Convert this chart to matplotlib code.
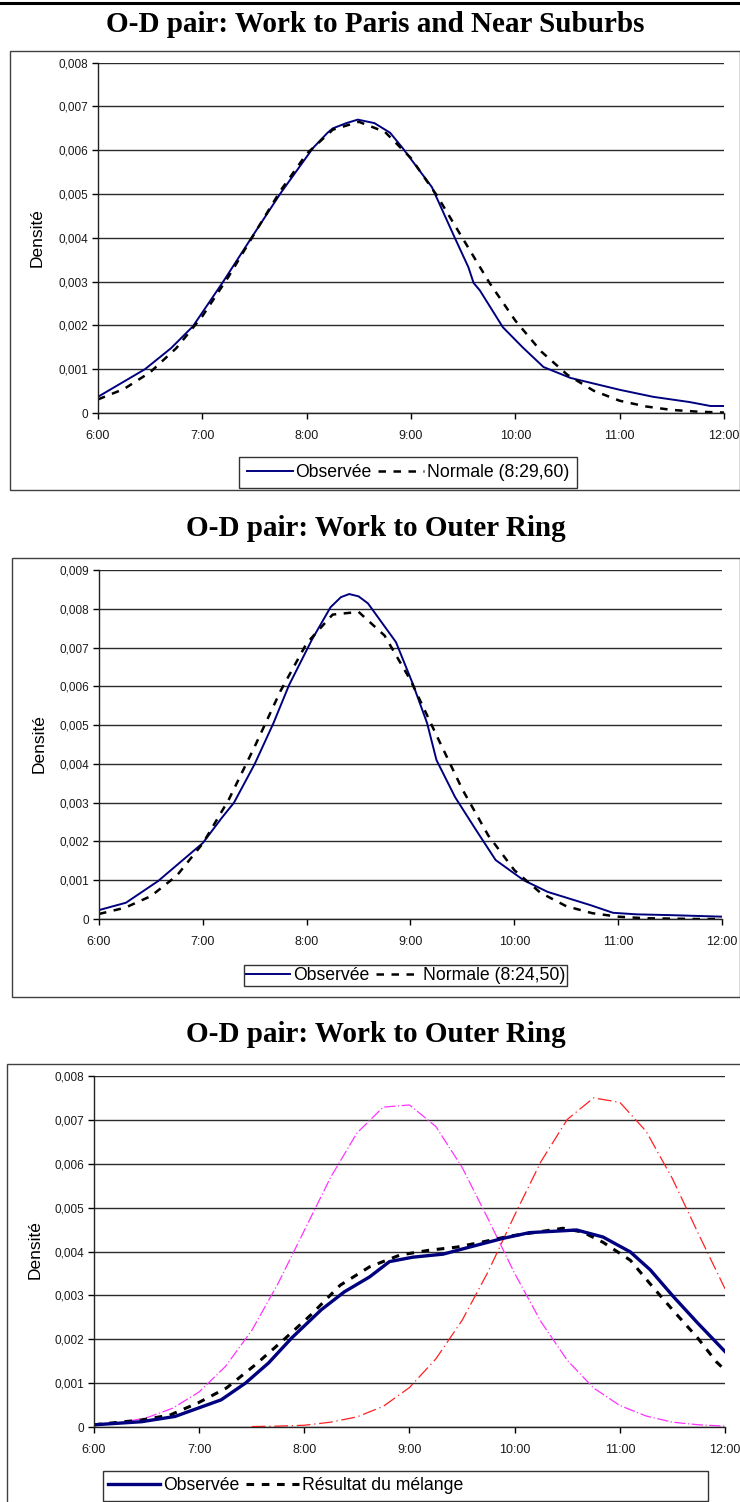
import matplotlib
matplotlib.use('Agg')
import matplotlib.pyplot as plt
from matplotlib.patches import Rectangle
from matplotlib.lines import Line2D

W, H = 740, 1502

# ------------------------------------------------------------------ data
hour_ticks = [6, 7, 8, 9, 10, 11, 12]
hour_labels = ['6:00', '7:00', '8:00', '9:00', '10:00', '11:00', '12:00']

titles = ['O-D pair: Work to Paris and Near Suburbs',
          'O-D pair: Work to Outer Ring',
          'O-D pair: Work to Outer Ring']
ylabel = 'Densité'

p1_yticks = [0, 0.001, 0.002, 0.003, 0.004, 0.005, 0.006, 0.007, 0.008]
p1_ylabels = ['0', '0,001', '0,002', '0,003', '0,004', '0,005', '0,006', '0,007', '0,008']
p2_yticks = [0, 0.001, 0.002, 0.003, 0.004, 0.005, 0.006, 0.007, 0.008, 0.009]
p2_ylabels = ['0', '0,001', '0,002', '0,003', '0,004', '0,005', '0,006', '0,007', '0,008', '0,009']

# Panel 1 : Paris and near suburbs
p1_obs_t = [6.0, 6.45, 6.7, 6.91, 7.2, 7.47, 7.75, 8.06, 8.2, 8.25, 8.38, 8.49, 8.65,
            8.8, 8.92, 9.2, 9.42, 9.55, 9.6, 9.66, 9.88, 10.07, 10.27, 10.53, 11.0,
            11.32, 11.67, 11.87, 12.0]
p1_obs_y = [0.00037, 0.00100, 0.00148, 0.00198, 0.00300, 0.00400, 0.00502, 0.00605,
            0.00640, 0.00650, 0.00662, 0.00670, 0.00662, 0.00640, 0.00605, 0.00516,
            0.00400, 0.00333, 0.00297, 0.00280, 0.00196, 0.00150, 0.00105, 0.00080,
            0.00053, 0.00037, 0.00025, 0.00016, 0.00016]
quarter_t = [6.0, 6.25, 6.5, 6.75, 7.0, 7.25, 7.5, 7.75, 8.0, 8.25, 8.5, 8.75,
             9.0, 9.25, 9.5, 9.75, 10.0, 10.25, 10.5, 10.75, 11.0, 11.25, 11.5,
             11.75, 12.0]
p1_norm_y = [0.00031, 0.00055, 0.00093, 0.00148, 0.00221, 0.00311, 0.00410, 0.00508,
             0.00592, 0.00647, 0.00665, 0.00642, 0.00582, 0.00496, 0.00397, 0.00298,
             0.00211, 0.00140, 0.00087, 0.00051, 0.00028, 0.00015, 0.00007, 0.00003,
             0.00001]
p1_legend = ['Observée', 'Normale (8:29,60)']

# Panel 2 : Outer ring
p2_obs_t = [6.0, 6.26, 6.57, 7.0, 7.18, 7.3, 7.5, 7.68, 7.83, 8.05, 8.23, 8.33, 8.41,
            8.5, 8.59, 8.86, 9.02, 9.16, 9.25, 9.43, 9.63, 9.82, 10.09, 10.32, 10.73,
            10.95, 11.18, 11.5, 12.0]
p2_obs_y = [0.00023, 0.00042, 0.00098, 0.00196, 0.00260, 0.00300, 0.00400, 0.00505,
            0.00603, 0.00720, 0.00804, 0.00830, 0.00838, 0.00832, 0.00814, 0.00714,
            0.00608, 0.00505, 0.00410, 0.00314, 0.00230, 0.00152, 0.00100, 0.00070,
            0.00036, 0.00016, 0.00012, 0.00010, 0.00006]
p2_norm_y = [0.00013, 0.00029, 0.00059, 0.00112, 0.00195, 0.00308, 0.00445, 0.00589,
             0.00711, 0.00785, 0.00792, 0.00731, 0.00616, 0.00474, 0.00334, 0.00215,
             0.00126, 0.00068, 0.00033, 0.00015, 0.00006, 0.00002, 0.00001, 0.0, 0.0]
p2_legend = ['Observée', 'Normale (8:24,50)']

# Panel 3 : Outer ring, mixture of two normals
p3_obs_t = [6.0, 6.45, 6.77, 6.99, 7.21, 7.44, 7.66, 7.88, 8.16, 8.38, 8.62, 8.81,
            9.03, 9.32, 9.57, 9.89, 10.14, 10.59, 10.84, 11.1, 11.29, 11.51, 11.74, 12.0]
p3_obs_y = [0.00005, 0.00012, 0.00024, 0.00043, 0.00062, 0.00100, 0.00146, 0.00203,
            0.00267, 0.00308, 0.00342, 0.00377, 0.00387, 0.00394, 0.00410, 0.00430,
            0.00443, 0.00449, 0.00433, 0.00399, 0.00358, 0.00297, 0.00237, 0.00172]
p3_mix_t = [6.0, 6.45, 6.72, 6.99, 7.26, 7.53, 7.8, 8.06, 8.34, 8.62, 8.91, 9.19,
            9.45, 9.7, 9.95, 10.21, 10.46, 10.65, 10.84, 11.1, 11.31, 11.52, 11.74,
            11.92, 12.0]
p3_mix_y = [0.00005, 0.00016, 0.00027, 0.00055, 0.00089, 0.00141, 0.00198, 0.00255,
            0.00323, 0.00365, 0.00392, 0.00403, 0.00410, 0.00422, 0.00435, 0.00444,
            0.00453, 0.00444, 0.00421, 0.00380, 0.00320, 0.00262, 0.00203, 0.00148,
            0.00130]
p3_comp1_y = [0.00004, 0.00010, 0.00021, 0.00043, 0.00080, 0.00138, 0.00220, 0.00327,
              0.00448, 0.00569, 0.00670, 0.00729, 0.00734, 0.00685, 0.00592, 0.00473,
              0.00350, 0.00240, 0.00152, 0.00089, 0.00049, 0.00025, 0.00011, 0.00005,
              0.00002]
p3_comp2_t = [7.5, 7.75, 8.0, 8.25, 8.5, 8.75, 9.0, 9.25, 9.5, 9.75, 10.0, 10.25,
              10.5, 10.75, 11.0, 11.25, 11.5, 11.75, 12.0]
p3_comp2_y = [0.00001, 0.00002, 0.00004, 0.00011, 0.00023, 0.00047, 0.00090, 0.00155,
              0.00243, 0.00355, 0.00483, 0.00605, 0.00701, 0.00750, 0.00740, 0.00674,
              0.00566, 0.00439, 0.00315]
p3_legend = ['Observée', 'Résultat du mélange']

# ------------------------------------------------------------------ style
NAVY = '#00007f'
GRID = '#2a2a2a'
plt.rcParams['font.family'] = ['Liberation Sans', 'DejaVu Sans']

fig = plt.figure(figsize=(W / 100, H / 100), dpi=100)


def fx(px):
    return px / W


def fy(py):
    return 1 - py / H


def make_axes(left, right, top, bottom):
    return fig.add_axes([fx(left), fy(bottom), (right - left) / W, (bottom - top) / H])


def style(ax, ymax, yt, yl):
    ax.set_xlim(6, 12)
    ax.set_ylim(0, ymax)
    ax.set_xticks(hour_ticks)
    ax.set_xticklabels(hour_labels)
    ax.set_yticks(yt)
    ax.set_yticklabels(yl)
    ax.grid(axis='y', color=GRID, lw=1)
    ax.grid(axis='x', visible=False)
    ax.set_axisbelow(True)
    for s in ('top', 'right'):
        ax.spines[s].set_visible(False)
    for s in ('left', 'bottom'):
        ax.spines[s].set_color('#222222')
        ax.spines[s].set_linewidth(1)
    ax.tick_params(axis='x', direction='out', length=4, width=1, pad=8,
                   labelsize=9, labelcolor='#1a1a1a')
    ax.tick_params(axis='y', direction='out', length=4, width=1, pad=3,
                   labelsize=8.5, labelcolor='#1a1a1a')
    ax.set_facecolor('none')


def box(x0, y0, x1, y1, lw=1.0, color='#404040'):
    fig.patches.append(Rectangle((fx(x0), fy(y1)), (x1 - x0) / W, (y1 - y0) / H,
                                 transform=fig.transFigure, fill=False,
                                 edgecolor=color, lw=lw))


# top page rule
fig.add_artist(Line2D([0, 1], [fy(3), fy(3)], transform=fig.transFigure,
                      color='black', lw=2.2))

title_kw = dict(ha='center', va='center', fontsize=21, fontweight='bold',
                family=['Liberation Serif', 'DejaVu Serif'])
fig.text(fx(375), fy(24), titles[0], **title_kw)
fig.text(fx(376), fy(529), titles[1], **title_kw)
fig.text(fx(376), fy(1035), titles[2], **title_kw)

# frames
box(10, 51, 739.5, 490)
box(12, 558, 739.5, 997)
box(7, 1064, 760, 1560)

dash_kw = dict(color='black', lw=1.8, linestyle=(0, (3, 3)))
leg_kw = dict(ncol=2, fontsize=12.7, fancybox=False, edgecolor='#333333',
              framealpha=1, handletextpad=0.15, columnspacing=0.4, borderaxespad=0)

# ---------------- panel 1
ax1 = make_axes(98, 724, 62.7, 413)
style(ax1, 0.008, p1_yticks, p1_ylabels)
l1, = ax1.plot(p1_obs_t, p1_obs_y, color=NAVY, lw=1.4)
l2, = ax1.plot(quarter_t, p1_norm_y, **dash_kw)
fig.text(fx(37.5), fy(238), ylabel, rotation=90, ha='center', va='center', fontsize=12.5)
fig.legend([l1, l2], p1_legend, loc='center', bbox_to_anchor=(fx(408), fy(472.5)),
           frameon=True, handlelength=2.6, borderpad=0.42, **leg_kw)

# ---------------- panel 2
ax2 = make_axes(99, 722, 570, 919)
style(ax2, 0.009, p2_yticks, p2_ylabels)
m1, = ax2.plot(p2_obs_t, p2_obs_y, color=NAVY, lw=1.4)
m2, = ax2.plot(quarter_t, p2_norm_y, **dash_kw)
fig.text(fx(39), fy(744), ylabel, rotation=90, ha='center', va='center', fontsize=12.5)
fig.legend([m1, m2], p2_legend, loc='center', bbox_to_anchor=(fx(405.5), fy(975.5)),
           frameon=True, handlelength=2.5, borderpad=0.12, **leg_kw)

# ---------------- panel 3
ax3 = make_axes(94, 725, 1076, 1427)
style(ax3, 0.008, p1_yticks, p1_ylabels)
ax3.plot(quarter_t, p3_comp1_y, color='#ff33ff', lw=0.9, linestyle=(0, (9, 2, 1, 2)))
ax3.plot(p3_comp2_t, p3_comp2_y, color='#ff2020', lw=0.9, linestyle=(0, (11, 3, 1, 3)))
n2, = ax3.plot(p3_mix_t, p3_mix_y, color='black', lw=2.2, linestyle=(0, (2.5, 2.5)))
n1, = ax3.plot(p3_obs_t, p3_obs_y, color=NAVY, lw=2.4)
fig.text(fx(35), fy(1250), ylabel, rotation=90, ha='center', va='center', fontsize=12.5)
box(103, 1471, 708, 1500.5, color='#333333')
leg3_kw = dict(leg_kw)
leg3_kw.pop('edgecolor')
leg3_kw.pop('framealpha')
fig.legend([n1, n2], p3_legend, loc='center left', bbox_to_anchor=(fx(104), fy(1486)),
           frameon=False, handlelength=3.0, borderpad=0.2, **leg3_kw)

fig.savefig('out.png', dpi=100, facecolor='white')
